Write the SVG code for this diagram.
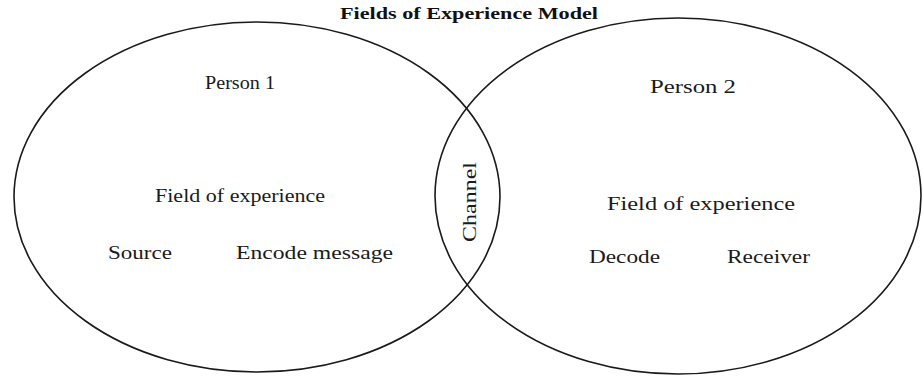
<svg xmlns="http://www.w3.org/2000/svg" width="923" height="376" viewBox="0 0 923 376">
  <style>
    .field { fill: none; stroke: #1a1a1a; stroke-width: 1.6; }
    .lbl { font-family: "Liberation Serif", "Times New Roman", serif; font-size: 18px; fill: #1a1a1a; }
    .title { font-family: "Liberation Serif", "Times New Roman", serif; font-size: 16px; font-weight: bold; fill: #111; }
  </style>
  <rect width="923" height="376" fill="#ffffff"/>

  <text class="title" x="340" y="19" textLength="258" lengthAdjust="spacingAndGlyphs">Fields of Experience Model</text>

  <g id="person1">
    <ellipse class="field" cx="257" cy="197" rx="243" ry="175"/>
    <text class="lbl" x="205" y="89" textLength="70" lengthAdjust="spacingAndGlyphs">Person 1</text>
    <text class="lbl" x="155" y="202" textLength="170" lengthAdjust="spacingAndGlyphs">Field of experience</text>
    <text class="lbl" x="108" y="259" textLength="64" lengthAdjust="spacingAndGlyphs">Source</text>
    <text class="lbl" x="236" y="259" textLength="157" lengthAdjust="spacingAndGlyphs">Encode message</text>
  </g>

  <g id="person2">
    <ellipse class="field" cx="678" cy="196" rx="243" ry="178"/>
    <text class="lbl" x="650" y="93" textLength="86" lengthAdjust="spacingAndGlyphs">Person 2</text>
    <text class="lbl" x="607" y="210" textLength="188" lengthAdjust="spacingAndGlyphs">Field of experience</text>
    <text class="lbl" x="589" y="263" textLength="71" lengthAdjust="spacingAndGlyphs">Decode</text>
    <text class="lbl" x="727" y="263" textLength="83" lengthAdjust="spacingAndGlyphs">Receiver</text>
  </g>

  <g id="channel">
    <text class="lbl" transform="translate(476 242) rotate(-90)" x="0" y="0" textLength="80" lengthAdjust="spacingAndGlyphs">Channel</text>
  </g>

  <g id="connectors"></g>
</svg>
